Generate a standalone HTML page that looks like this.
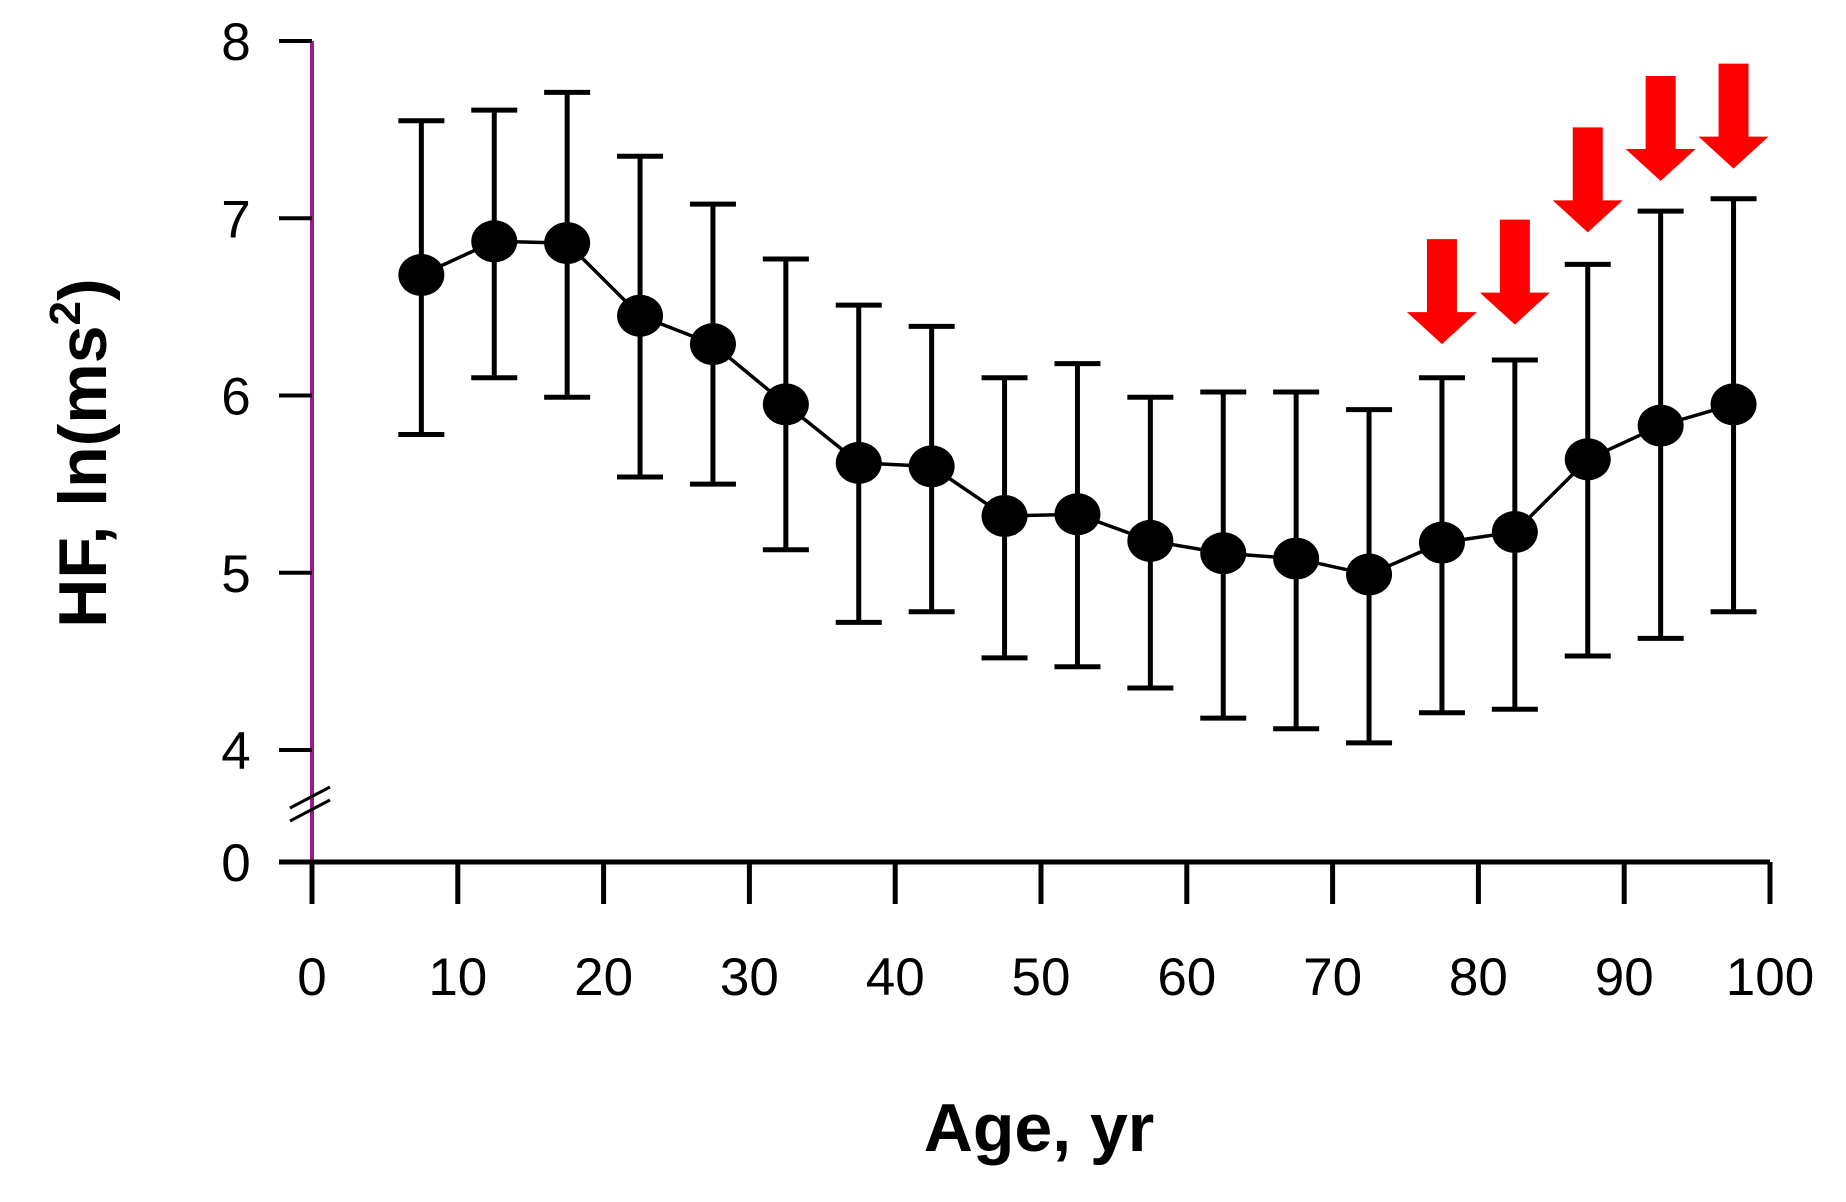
<!DOCTYPE html>
<html><head><meta charset="utf-8"><style>
html,body{margin:0;padding:0;background:#fff;}
svg{display:block;}
text{font-family:"Liberation Sans",sans-serif;}
</style></head><body>
<svg id="chart" width="1846" height="1202" viewBox="0 0 1846 1202" xmlns="http://www.w3.org/2000/svg">
<g id="axes"></g>
<g id="marks"></g>
<text x="1039" y="1151" font-size="68" font-weight="bold" text-anchor="middle">Age, yr</text>
<text transform="translate(106,453) rotate(-90)" font-size="68" font-weight="bold" text-anchor="middle">HF, ln(ms<tspan font-size="44" dy="-26">2</tspan><tspan dy="26">)</tspan></text>
</svg>
<script>
const ages=[7.5,12.5,17.5,22.5,27.5,32.5,37.5,42.5,47.5,52.5,57.5,62.5,67.5,72.5,77.5,82.5,87.5,92.5,97.5];
const means=[6.68,6.87,6.86,6.45,6.29,5.95,5.62,5.60,5.32,5.33,5.18,5.11,5.08,4.99,5.17,5.23,5.64,5.83,5.95];
const upper=[7.55,7.61,7.71,7.35,7.08,6.77,6.51,6.39,6.10,6.18,5.99,6.02,6.02,5.92,6.10,6.20,6.74,7.04,7.11];
const lower=[5.78,6.10,5.99,5.54,5.50,5.13,4.72,4.78,4.52,4.47,4.35,4.18,4.12,4.04,4.21,4.23,4.53,4.63,4.78];
const arrowAges=[77.5,82.5,87.5,92.5,97.5];
const arrowTips=[6.29,6.40,6.92,7.21,7.28];
const xTicks=[0,10,20,30,40,50,60,70,80,90,100];
const yTicks=[4,5,6,7,8];

const NS="http://www.w3.org/2000/svg";
const X0=312,X1=1770,YV4=750,YV8=41,Y0=862;
const xs=v=>X0+(v/100)*(X1-X0);
const ys=v=>YV4-(v-4)*(YV4-YV8)/4;
function mk(tag,attrs,parent){const e=document.createElementNS(NS,tag);for(const k in attrs)e.setAttribute(k,attrs[k]);parent.appendChild(e);return e;}
const axes=document.getElementById('axes'),marks=document.getElementById('marks');

let e=mk('line',{x1:X0,y1:YV8,x2:X0,y2:Y0,stroke:'#9b1b8f','stroke-width':4},axes);


e=mk('line',{x1:279,y1:Y0,x2:X1,y2:Y0,stroke:'#000','stroke-width':5},axes);


for(const d of [0,13]){
  e=mk('line',{x1:290,y1:808+d,x2:330,y2:787+d,stroke:'#000','stroke-width':3},axes);
  
  
}
yTicks.forEach(t=>{
  const y=ys(t);
  let l=mk('line',{x1:279,y1:y,x2:X0,y2:y,stroke:'#000','stroke-width':4},axes);
  
  
  let tx=mk('text',{x:236,y:y+19,'font-size':53,'text-anchor':'middle'},axes);
  tx.textContent=t;
  
  
});
let tz=mk('text',{x:236,y:Y0+19,'font-size':53,'text-anchor':'middle'},axes);
tz.textContent='0';


xTicks.forEach(t=>{
  const x=xs(t);
  let l=mk('line',{x1:x,y1:Y0,x2:x,y2:904,stroke:'#000','stroke-width':5},axes);
  
  
  let tx=mk('text',{x:x,y:995,'font-size':53,'text-anchor':'middle'},axes);
  tx.textContent=t;
  
  
});

ages.forEach((a,i)=>{
  const x=xs(a);
  let g=mk('g',{},marks);
  
  
  mk('line',{x1:x,y1:ys(upper[i]),x2:x,y2:ys(lower[i]),stroke:'#000','stroke-width':5},g);
  mk('line',{x1:x-23,y1:ys(upper[i]),x2:x+23,y2:ys(upper[i]),stroke:'#000','stroke-width':5},g);
  mk('line',{x1:x-23,y1:ys(lower[i]),x2:x+23,y2:ys(lower[i]),stroke:'#000','stroke-width':5},g);
});
const pts=ages.map((a,i)=>xs(a)+','+ys(means[i])).join(' ');
let pl=mk('polyline',{points:pts,fill:'none',stroke:'#000','stroke-width':3.5},marks);


ages.forEach((a,i)=>{
  let c=mk('ellipse',{cx:xs(a),cy:ys(means[i]),rx:23,ry:21,fill:'#000'},marks);
  
  
});
arrowAges.forEach((a,i)=>{
  const x=xs(a),tip=ys(arrowTips[i]),top=tip-105;
  const hb=tip-32;
  const d=`M${x-15},${top} L${x+15},${top} L${x+15},${hb} L${x+35},${hb} L${x},${tip} L${x-35},${hb} L${x-15},${hb} Z`;
  let p=mk('path',{d:d,fill:'#ff0000'},marks);
  
  
});
</script>
</body></html>
